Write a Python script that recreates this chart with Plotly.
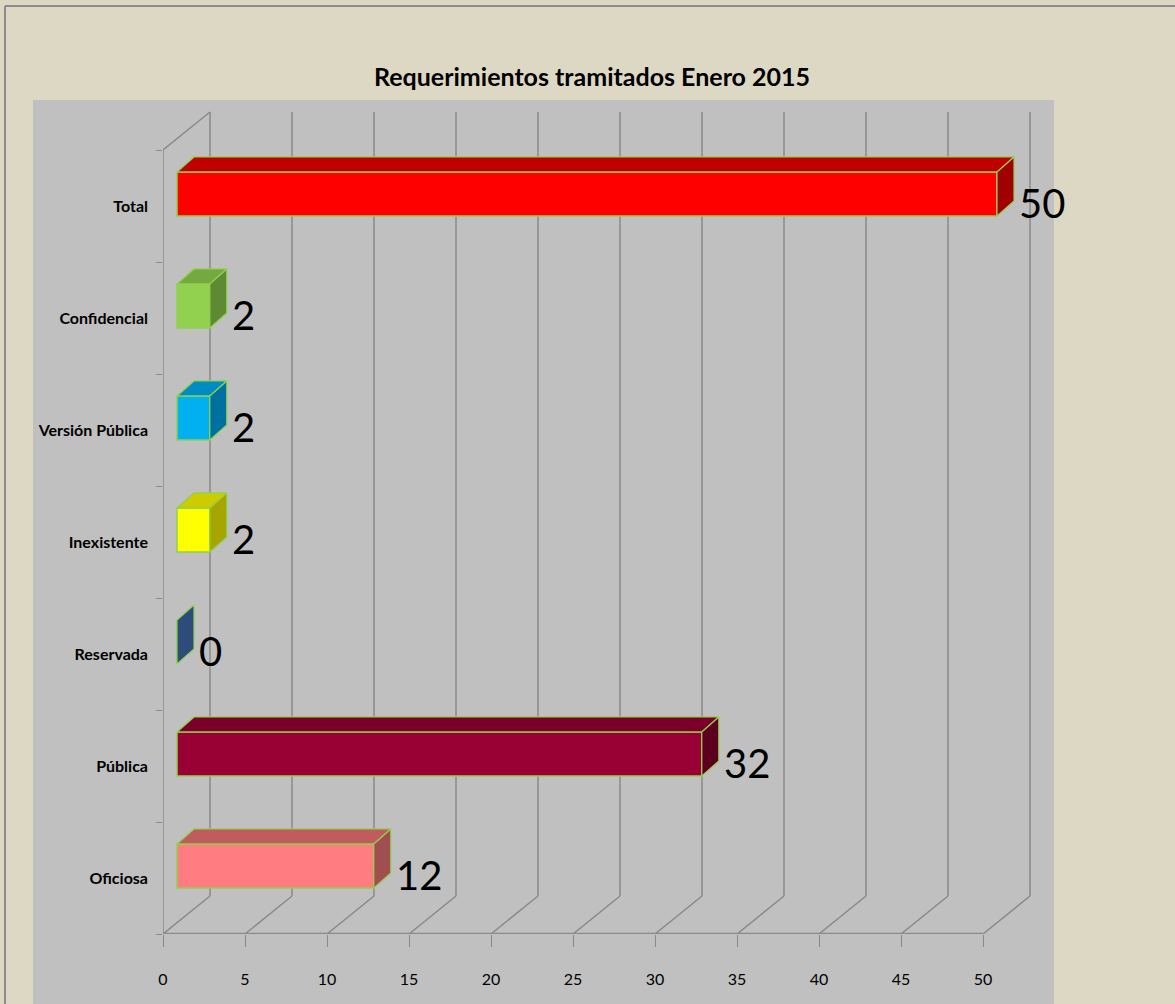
import plotly.graph_objects as go

# ---------------- data ----------------
categories = ["Oficiosa", "Pública", "Reservada", "Inexistente", "Versión Pública", "Confidencial", "Total"]
values = [12, 32, 0, 2, 2, 2, 50]
value_labels = ["12", "32", "0", "2", "2", "2", "50"]
front_colors = ["#FF7C80", "#990033", "#1F497D", "#FFFF00", "#00B0F0", "#92D050", "#FF0000"]
top_colors = ["#C05B5E", "#7A0029", "#1A3D69", "#CCCC00", "#008CC0", "#76A840", "#C00000"]
side_colors = ["#A04E50", "#5C001F", "#2E4C7B", "#A6A600", "#0070A0", "#5E8A33", "#A00000"]
x_ticks = [0, 5, 10, 15, 20, 25, 30, 35, 40, 45, 50]
title_text = "Requerimientos tramitados Enero 2015"

# ---------------- geometry (in axis units) ----------------
W, H = 1175, 1004
ML, MR, MT, MB = 163, 121, 100, 70
PX_PER_UNIT = 16.4
PX_PER_CAT = 112.0
x_max = (W - ML - MR) / PX_PER_UNIT
y_min = -0.5
y_max = y_min + (H - MT - MB) / PX_PER_CAT

WALL_DX = 47 / PX_PER_UNIT     # depth of the 3D box (x)
WALL_DY = 38 / PX_PER_CAT      # depth of the 3D box (y)
BAR_X0 = 14 / PX_PER_UNIT      # front plane of bars
BAR_DX = 17 / PX_PER_UNIT      # bar depth (x)
BAR_DY = 15 / PX_PER_CAT       # bar depth (y)
BAR_W = 0.393
BAR_OFF = -0.089
GAP = 3 / PX_PER_UNIT

FONT = "Lato, Roboto, DejaVu Sans Condensed, sans-serif"
GRID = "#8A8A8A"
EDGE = "#92D050"

positions = list(range(len(categories)))
x_axis_max = max(x_ticks)
y_top = positions[-1] + 0.5

fig = go.Figure()

# front faces as real bars
fig.add_trace(go.Bar(
    y=positions, x=values, base=BAR_X0, orientation="h",
    width=BAR_W, offset=BAR_OFF,
    marker=dict(color=front_colors, line=dict(color=EDGE, width=1.5)),
    hoverinfo="skip", showlegend=False,
))

# top & side faces of the 3D bars
for p, v, tc, sc in zip(positions, values, top_colors, side_colors):
    yb = p + BAR_OFF
    yt = yb + BAR_W
    x0 = BAR_X0
    x1 = BAR_X0 + v
    if v > 0:
        fig.add_trace(go.Scatter(
            x=[x0, x1, x1 + BAR_DX, x0 + BAR_DX, x0],
            y=[yt, yt, yt + BAR_DY, yt + BAR_DY, yt],
            mode="lines", fill="toself", fillcolor=tc,
            line=dict(color=EDGE, width=1.2), hoverinfo="skip", showlegend=False))
    fig.add_trace(go.Scatter(
        x=[x1, x1, x1 + BAR_DX, x1 + BAR_DX, x1],
        y=[yb, yt, yt + BAR_DY, yb + BAR_DY, yb],
        mode="lines", fill="toself", fillcolor=sc,
        line=dict(color=EDGE, width=1.2), hoverinfo="skip", showlegend=False))

PW = W - ML - MR
PH = H - MT - MB
shapes = []
# gray chart area + border
shapes.append(dict(type="rect", xref="paper", yref="paper",
                   x0=(33 - ML) / PW, x1=(1054 - ML) / PW,
                   y0=-(MB + 5) / PH, y1=1.0,
                   fillcolor="#C0C0C0", line=dict(width=0), layer="below"))
shapes.append(dict(type="line", xref="paper", yref="paper",
                   x0=(5 - ML) / PW, x1=(W - ML) / PW,
                   y0=(H - MB - 6) / PH, y1=(H - MB - 6) / PH,
                   line=dict(color="#8C8C8C", width=2)))
shapes.append(dict(type="line", xref="paper", yref="paper",
                   x0=(5 - ML) / PW, x1=(5 - ML) / PW,
                   y0=-(MB + 5) / PH, y1=(H - MB - 6) / PH,
                   line=dict(color="#8C8C8C", width=2)))

# walls / gridlines
for t in x_ticks:
    shapes.append(dict(type="line", x0=t + WALL_DX, x1=t + WALL_DX,
                       y0=y_min + WALL_DY, y1=y_top + WALL_DY,
                       line=dict(color=GRID, width=1.5), layer="below"))
    shapes.append(dict(type="line", x0=t, x1=t + WALL_DX,
                       y0=y_min, y1=y_min + WALL_DY,
                       line=dict(color=GRID, width=1.5), layer="below"))
# left wall
shapes.append(dict(type="line", x0=0, x1=0, y0=y_min, y1=y_top,
                   line=dict(color=GRID, width=1.5), layer="below"))
shapes.append(dict(type="line", x0=0, x1=WALL_DX, y0=y_top, y1=y_top + WALL_DY,
                   line=dict(color=GRID, width=1.5), layer="below"))
# base line
shapes.append(dict(type="line", x0=0, x1=x_axis_max, y0=y_min, y1=y_min,
                   line=dict(color=GRID, width=2.5), layer="below"))

annotations = []
for p, v, lab in zip(positions, values, value_labels):
    annotations.append(dict(x=BAR_X0 + v + BAR_DX + GAP, y=p + 0.03, text=lab,
                            xanchor="left", yanchor="middle", showarrow=False,
                            font=dict(family=FONT, size=40, color="black")))

fig.update_layout(
    width=W, height=H,
    margin=dict(l=ML, r=MR, t=MT, b=MB, pad=0),
    paper_bgcolor="#DDD8C3",
    plot_bgcolor="rgba(0,0,0,0)",
    title=dict(text="<b>" + title_text + "</b>", x=592 / W, xanchor="center",
               y=1 - 77 / H, yanchor="middle",
               font=dict(family=FONT, size=25, color="black")),
    xaxis=dict(range=[0, x_max], tickvals=x_ticks, ticktext=[str(t) for t in x_ticks],
               showgrid=False, zeroline=False, showline=False,
               ticks="outside", ticklen=12, tickcolor=GRID, tickwidth=1,
               ticklabelstandoff=19,
               tickfont=dict(family=FONT, size=16, color="black"), fixedrange=True),
    yaxis=dict(range=[y_min, y_max], tickvals=positions, ticktext=["<b>" + c + "</b>" for c in categories],
               showgrid=False, zeroline=False, showline=False,
               ticks="", ticklabelstandoff=14,
               minor=dict(tick0=-0.5, dtick=1, ticks="outside", ticklen=6,
                          tickcolor=GRID, tickwidth=1, showgrid=False),
               tickfont=dict(family=FONT, size=16, color="black"), fixedrange=True),
    shapes=shapes,
    annotations=annotations,
    showlegend=False,
)

fig.write_html(
    "out.html",
    config={"displayModeBar": False},
    post_script="document.body.style.margin='0';document.body.style.padding='0';"
                "document.documentElement.style.overflow='hidden';",
)
